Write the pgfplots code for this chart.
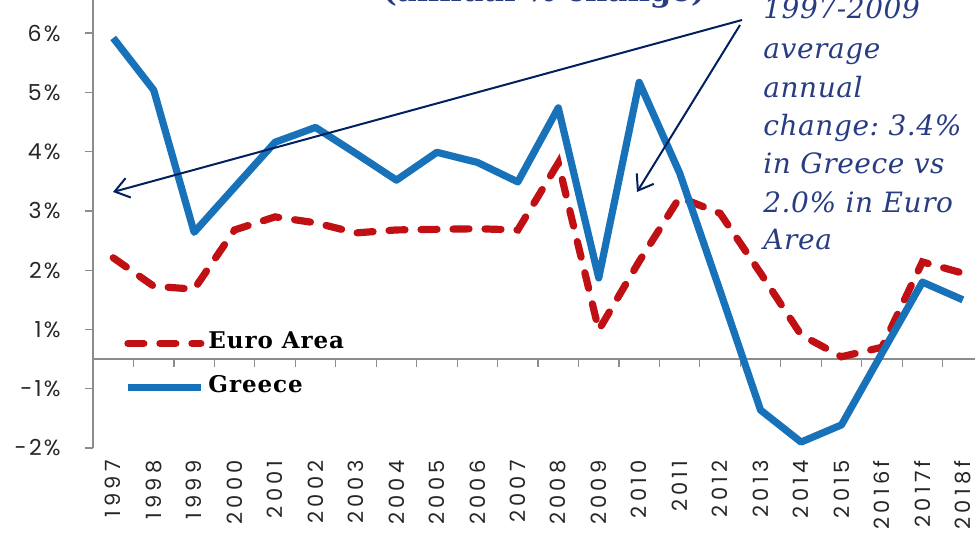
\documentclass[border=0pt]{standalone}
\usepackage{fontspec}
\setmainfont{DejaVu Serif}
\newfontfamily\tickfont[LetterSpace=20]{Poppins}
\newfontfamily\ytickfont[LetterSpace=10]{Poppins}
\usepackage{pgfplots}
\pgfplotsset{compat=1.18}
\usetikzlibrary{arrows.meta}
\definecolor{grblue}{RGB}{23,114,186}
\definecolor{eured}{RGB}{192,16,20}
\definecolor{navy}{RGB}{0,32,96}
\definecolor{annot}{RGB}{40,60,130}
\definecolor{axgray}{RGB}{140,140,140}
\frenchspacing
\begin{document}
\begin{tikzpicture}
\useasboundingbox (0,0) rectangle (487.5pt,269pt);
\begin{axis}[
  at={(46.5pt,45pt)}, anchor=south west,
  scale only axis, width=441pt, height=224pt,
  xmin=-0.5, xmax=21.3, ymin=-1, ymax=6.56,
  axis lines*=left,
  axis line style={-, draw=axgray, line width=0.7pt},
  x axis line style={draw=none},
  xtick={0,...,21},
  xticklabels={1997,1998,1999,2000,2001,2002,2003,2004,2005,2006,2007,2008,2009,2010,2011,2012,2013,2014,2015,2016f,2017f,2018f},
  x tick style={draw=none},
  xticklabel style={yshift=-2pt, rotate=90, anchor=east, inner sep=0pt, font=\tickfont\fontsize{10.5}{12}\selectfont},
  ytick={-1,0,1,2,3,4,5,6},
  yticklabels={-2\%,-1\%,1\%,2\%,3\%,4\%,5\%,6\%},
  y tick style={draw=axgray, line width=0.7pt},
  tick align=outside, major tick length=4pt,
  yticklabel style={anchor=east, inner sep=0pt, xshift=-12pt, font=\ytickfont\fontsize{11}{12}\selectfont},
  tick label style={text=black!85},
  /pgf/number format/assume math mode=true,
  legend cell align=left,
  legend style={draw=none, fill=none, inner sep=0pt, at={(0.035,0.2567)}, anchor=north west,
    row sep=12pt, font=\fontsize{11.5}{13}\selectfont\bfseries\addfontfeatures{LetterSpace=4},
    nodes={inner ysep=0pt, text height=7.5pt, text depth=2.5pt}},
  legend image code/.code={\draw[#1] (0pt,0pt) -- (36.5pt,0pt);},
]
\draw[axgray, line width=0.7pt] (axis cs:-0.5,0.5) -- (axis cs:21.3,0.5);
\pgfplotsinvokeforeach{0,...,20}{\draw[axgray, line width=0.6pt] (axis cs:#1.5,0.5) -- ([yshift=-4pt]axis cs:#1.5,0.5);}
\addplot[eured, line width=3.6pt, line cap=round, dash pattern=on 8pt off 8pt] coordinates {
(0,2.21) (1,1.73) (2,1.68) (3,2.68) (4,2.90) (5,2.80) (6,2.63) (7,2.68) (8,2.69) (9,2.70) (10,2.68)
(11,3.81) (12,0.99) (13,2.15) (14,3.23) (15,2.96) (16,1.95) (17,0.91) (18,0.54) (19,0.70) (20,2.14) (21,1.95)};
\addlegendentry{Euro Area}
\addplot[grblue, line width=3.6pt, line join=round] coordinates {
(0,5.92) (1,5.04) (2,2.64) (3,3.40) (4,4.16) (5,4.41) (6,3.97) (7,3.52) (8,3.99) (9,3.82) (10,3.49)
(11,4.74) (12,1.87) (13,5.17) (14,3.64) (15,1.65) (16,-0.36) (17,-0.90) (18,-0.61) (19,0.60) (20,1.80) (21,1.50)};
\addlegendentry{Greece}
\end{axis}
\node[anchor=base west, font=\bfseries\fontsize{15.4}{17}\selectfont, text=annot, inner sep=0pt] at (191pt,268.5pt) {(annual \% change)};
\begin{scope}[font=\itshape\fontsize{14}{16}\selectfont\addfontfeatures{LetterSpace=2}, text=annot]
\node[anchor=base west, inner sep=0pt] at (381.5pt,259.75pt) {1997-2009};
\node[anchor=base west, inner sep=0pt] at (381.5pt,240pt) {average};
\node[anchor=base west, inner sep=0pt] at (381.5pt,220.5pt) {annual};
\node[anchor=base west, inner sep=0pt] at (381.5pt,201.5pt) {change: 3.4\%};
\node[anchor=base west, inner sep=0pt] at (381.5pt,182.5pt) {in Greece vs};
\node[anchor=base west, inner sep=0pt] at (381.5pt,163pt) {2.0\% in Euro};
\node[anchor=base west, inner sep=0pt] at (381.5pt,144.5pt) {Area};
\end{scope}
\draw[navy, line width=1pt, -{Straight Barb[length=7pt,width=10pt]}] (371pt,259pt) -- (56.5pt,173pt);
\draw[navy, line width=1pt, -{Straight Barb[length=7pt,width=10pt]}] (370pt,256.5pt) -- (318.5pt,173pt);
\end{tikzpicture}
\end{document}
